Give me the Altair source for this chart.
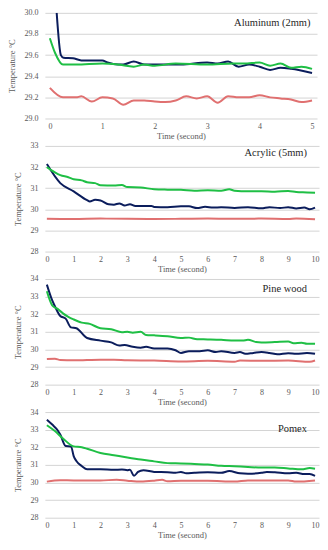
import altair as alt
import pandas as pd

# ---------------- data ----------------
# Aluminum (2mm)
AL_NAVY_T = [0.13, 0.21, 0.26, 0.44, 0.6, 1.0, 1.1, 1.3, 1.4, 1.6, 1.8, 2.0, 2.5, 3.0, 3.2, 3.4, 3.6, 3.8, 4.0, 4.2, 4.4, 4.6, 5.0]
AL_NAVY = [30.0, 29.6, 29.575, 29.57, 29.55, 29.55, 29.53, 29.51, 29.51, 29.54, 29.51, 29.51, 29.51, 29.53, 29.52, 29.54, 29.49, 29.51, 29.49, 29.46, 29.48, 29.47, 29.43]
AL_GREEN_T = [0.0, 0.1, 0.25, 0.5, 1.0, 1.3, 1.6, 1.8, 2.0, 2.4, 3.0, 3.5, 3.7, 4.0, 4.2, 4.4, 4.6, 4.8, 5.0]
AL_GREEN = [29.76, 29.62, 29.51, 29.51, 29.52, 29.51, 29.49, 29.51, 29.5, 29.52, 29.51, 29.52, 29.52, 29.53, 29.5, 29.52, 29.48, 29.49, 29.47]
AL_RED_T = [0.0, 0.25, 0.5, 0.6, 0.8, 1.0, 1.2, 1.4, 1.6, 1.8, 2.0, 2.2, 2.4, 2.6, 2.8, 3.0, 3.2, 3.4, 3.6, 3.8, 4.0, 4.2, 4.4, 4.6, 4.8, 5.0]
AL_RED = [29.29, 29.2, 29.2, 29.21, 29.16, 29.2, 29.19, 29.13, 29.17, 29.17, 29.16, 29.155, 29.17, 29.21, 29.19, 29.21, 29.15, 29.21, 29.2, 29.2, 29.22, 29.2, 29.19, 29.18, 29.155, 29.17]

# Acrylic (5mm)
AC_NAVY_T = [0.0, 0.5, 1.0, 1.5, 1.6, 1.8, 2.0, 2.3, 2.5, 2.7, 2.9, 3.1, 3.3, 3.6, 3.9, 4.0, 4.5, 5.0, 5.3, 5.6, 5.9, 6.2, 6.5, 7.0, 7.5, 8.0, 8.3, 8.7, 9.0, 9.3, 9.6, 9.8, 10.0]
AC_NAVY = [32.14, 31.24, 30.85, 30.43, 30.37, 30.45, 30.42, 30.24, 30.22, 30.28, 30.18, 30.24, 30.16, 30.16, 30.16, 30.11, 30.1, 30.14, 30.14, 30.06, 30.12, 30.08, 30.1, 30.06, 30.1, 30.05, 30.1, 30.06, 30.1, 30.04, 30.08, 30.0, 30.08]
AC_GREEN_T = [0.0, 0.3, 0.5, 0.8, 1.0, 1.3, 1.5, 1.8, 2.0, 2.5, 2.8, 3.0, 3.5, 4.0, 4.5, 5.0, 5.5, 6.0, 6.5, 6.8, 7.0, 7.5, 8.0, 8.5, 9.0, 9.3, 9.7, 10.0]
AC_GREEN = [32.0, 31.75, 31.62, 31.52, 31.42, 31.37, 31.28, 31.24, 31.14, 31.13, 31.15, 31.05, 31.03, 30.95, 30.93, 30.92, 30.88, 30.9, 30.88, 30.95, 30.88, 30.85, 30.86, 30.83, 30.87, 30.82, 30.8, 30.78]
AC_RED_T = [0.0, 1.0, 2.0, 3.0, 4.0, 5.0, 6.0, 7.0, 8.0, 9.0, 9.3, 10.0]
AC_RED = [29.55, 29.54, 29.56, 29.55, 29.54, 29.55, 29.56, 29.55, 29.56, 29.54, 29.57, 29.53]

# Pine wood
PW_NAVY_T = [0.0, 0.2, 0.3, 0.5, 0.7, 0.9, 1.1, 1.5, 2.0, 2.4, 2.7, 2.9, 3.2, 3.5, 3.7, 4.0, 4.5, 4.8, 5.0, 5.3, 5.7, 6.0, 6.3, 6.5, 7.0, 7.2, 7.4, 7.7, 8.0, 8.3, 8.6, 9.0, 9.3, 9.7, 10.0]
PW_NAVY = [33.68, 32.78, 32.45, 31.9, 31.75, 31.25, 31.2, 30.65, 30.5, 30.4, 30.22, 30.25, 30.15, 30.1, 30.15, 30.05, 30.05, 29.95, 29.8, 29.9, 29.9, 29.95, 29.85, 29.9, 29.8, 29.85, 29.75, 29.8, 29.85, 29.8, 29.72, 29.78, 29.75, 29.8, 29.75]
PW_GREEN_T = [0.0, 0.2, 0.4, 0.6, 0.8, 1.0, 1.3, 1.6, 2.0, 2.4, 2.8, 3.0, 3.2, 3.5, 3.7, 4.0, 4.5, 5.0, 5.3, 5.6, 6.0, 6.5, 7.0, 7.3, 7.5, 7.8, 8.0, 8.5, 9.0, 9.2, 9.5, 9.7, 10.0]
PW_GREEN = [33.3, 32.5, 32.3, 32.05, 31.85, 31.7, 31.52, 31.45, 31.2, 31.15, 30.98, 31.0, 30.95, 31.0, 30.82, 30.8, 30.75, 30.65, 30.67, 30.58, 30.57, 30.55, 30.5, 30.5, 30.55, 30.42, 30.4, 30.42, 30.45, 30.35, 30.38, 30.32, 30.32]
PW_RED_T = [0.0, 0.3, 0.5, 1.0, 2.0, 2.5, 3.0, 4.0, 5.0, 6.0, 7.0, 7.2, 8.0, 9.0, 9.8, 10.0]
PW_RED = [29.45, 29.47, 29.4, 29.38, 29.42, 29.42, 29.38, 29.37, 29.32, 29.35, 29.3, 29.37, 29.35, 29.37, 29.3, 29.37]

# Pomex
PO_NAVY_T = [0.0, 0.2, 0.4, 0.5, 0.7, 0.9, 1.0, 1.1, 1.3, 1.5, 2.0, 2.5, 2.8, 3.0, 3.1, 3.25, 3.4, 3.6, 4.0, 4.5, 4.8, 5.0, 5.2, 5.5, 6.0, 6.5, 6.8, 7.2, 7.5, 8.0, 8.2, 8.5, 9.0, 9.3, 9.6, 9.8, 10.0]
PO_NAVY = [33.57, 33.29, 32.97, 32.72, 32.07, 32.05, 31.5, 31.22, 30.94, 30.75, 30.75, 30.72, 30.74, 30.7, 30.72, 30.38, 30.6, 30.7, 30.6, 30.58, 30.55, 30.6, 30.52, 30.55, 30.58, 30.55, 30.65, 30.52, 30.5, 30.55, 30.6, 30.58, 30.52, 30.55, 30.48, 30.48, 30.38]
PO_GREEN_T = [0.0, 0.3, 0.6, 1.0, 1.3, 1.5, 2.0, 2.5, 3.0, 3.5, 4.0, 4.5, 5.0, 5.5, 6.0, 6.5, 7.0, 7.5, 8.0, 8.5, 9.0, 9.5, 9.8, 10.0]
PO_GREEN = [33.25, 32.92, 32.5, 32.05, 32.0, 31.92, 31.68, 31.55, 31.42, 31.3, 31.2, 31.1, 31.08, 31.05, 31.02, 30.95, 30.92, 30.88, 30.85, 30.85, 30.8, 30.75, 30.82, 30.78]
PO_RED_T = [0.0, 0.5, 1.0, 2.0, 2.6, 3.0, 3.5, 4.0, 4.3, 4.5, 5.0, 6.0, 7.0, 7.5, 8.0, 9.0, 9.3, 10.0]
PO_RED = [30.05, 30.13, 30.12, 30.12, 30.15, 30.1, 30.05, 30.1, 30.15, 30.07, 30.1, 30.1, 30.05, 30.12, 30.12, 30.12, 30.05, 30.12]

PANEL_TITLES = ["Aluminum (2mm)", "Acrylic (5mm)", "Pine wood", "Pomex"]
LABEL_X = [4.97, 9.7, 9.7, 9.7]
LABEL_Y = [29.9, 32.67, 33.42, 33.04]
Y_DOMAINS = [[29.0, 30.0], [28, 33], [28, 34], [28, 34]]
Y_TICKS = [[29.0, 29.2, 29.4, 29.6, 29.8, 30.0], [28, 29, 30, 31, 32, 33],
           [28, 29, 30, 31, 32, 33, 34], [28, 29, 30, 31, 32, 33, 34]]
X_DOMAINS = [[-0.095, 5.095], [-0.074, 10.148], [-0.074, 10.148], [-0.074, 10.148]]
X_TICKS = [[0, 1, 2, 3, 4, 5], list(range(11)), list(range(11)), list(range(11))]

SERIES = ["Series 1", "Series 2", "Series 3"]
COLORS = ["#0b1d5c", "#1fbf45", "#e07070"]

PANEL_DATA = [
    [(AL_NAVY_T, AL_NAVY), (AL_GREEN_T, AL_GREEN), (AL_RED_T, AL_RED)],
    [(AC_NAVY_T, AC_NAVY), (AC_GREEN_T, AC_GREEN), (AC_RED_T, AC_RED)],
    [(PW_NAVY_T, PW_NAVY), (PW_GREEN_T, PW_GREEN), (PW_RED_T, PW_RED)],
    [(PO_NAVY_T, PO_NAVY), (PO_GREEN_T, PO_GREEN), (PO_RED_T, PO_RED)],
]

WIDTHS = [273, 275, 275, 275]
SERIF = "Liberation Serif"
AXIS_STYLE = dict(labelFont=SERIF, titleFont=SERIF, labelFontSize=8, titleFontSize=8.5,
                  labelColor="#595959", titleColor="#595959", titleFontWeight="normal",
                  domain=False, ticks=False, labelOverlap=False, labelFlush=False)

panels = []
for i, series in enumerate(PANEL_DATA):
    rows = []
    for name, (ts, vs) in zip(SERIES, series):
        for t, v in zip(ts, vs):
            rows.append({"t": t, "v": v, "s": name})
    df = pd.DataFrame(rows)
    xs = alt.Scale(domain=X_DOMAINS[i], nice=False, zero=False)
    ys = alt.Scale(domain=Y_DOMAINS[i], nice=False, zero=False)
    fmt = ".1f" if i == 0 else "d"
    x_axis = alt.Axis(values=X_TICKS[i], grid=False, labelPadding=4, titlePadding=1,
                      format="d", **AXIS_STYLE)
    y_axis = alt.Axis(values=Y_TICKS[i], grid=True, gridColor="#d4d4d4", gridWidth=1,
                      labelPadding=7, titlePadding=7, format=fmt, **AXIS_STYLE)
    lines = alt.Chart(df).mark_line(strokeWidth=2, interpolate="monotone", clip=True).encode(
        x=alt.X("t:Q", scale=xs, title="Time (second)", axis=x_axis),
        y=alt.Y("v:Q", scale=ys, title="Temperature °C", axis=y_axis),
        color=alt.Color("s:N", scale=alt.Scale(domain=SERIES, range=COLORS), legend=None),
        order="t:Q",
    )
    lab_df = pd.DataFrame({"x": [LABEL_X[i]], "y": [LABEL_Y[i]], "label": [PANEL_TITLES[i]]})
    label = alt.Chart(lab_df).mark_text(align="right", baseline="middle", fontSize=10.5,
                                        color="#262626", font=SERIF).encode(
        x=alt.X("x:Q", scale=xs, title="Time (second)", axis=x_axis),
        y=alt.Y("y:Q", scale=ys, title="Temperature °C", axis=y_axis),
        text="label:N")
    panels.append(alt.layer(lines, label).properties(width=WIDTHS[i], height=106))

chart = alt.vconcat(*panels, spacing=27.5, bounds="flush").properties(
    padding={"top": 0, "left": 0, "right": 0, "bottom": 0}
).configure(font=SERIF).configure_view(stroke=None)

chart.save("out.html", embed_options={"renderer": "svg", "actions": False})
